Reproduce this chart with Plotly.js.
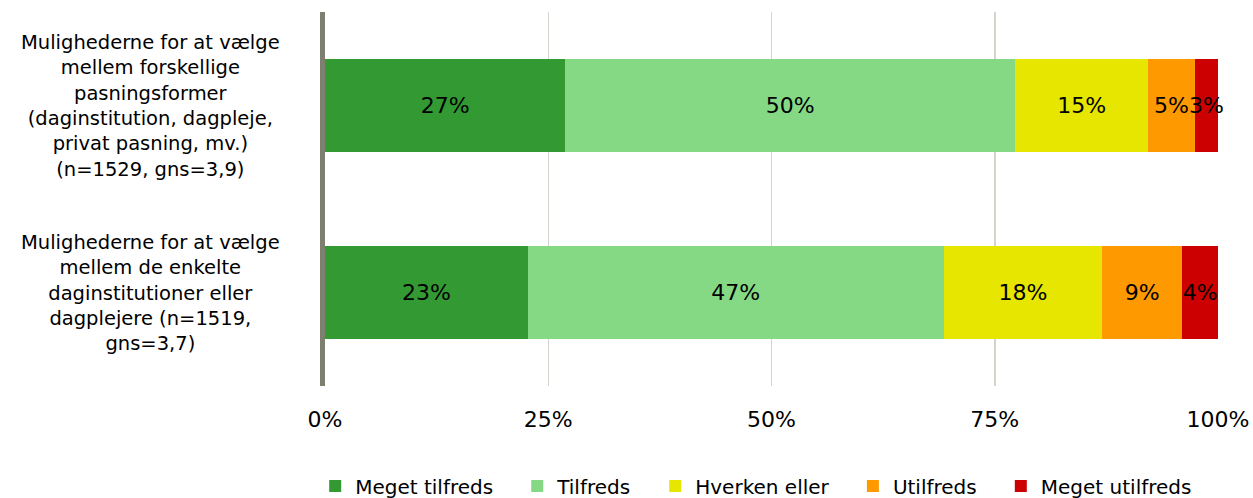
<!DOCTYPE html>
<html>
<head>
<meta charset="utf-8">
<script src="https://cdn.plot.ly/plotly-3.0.1.min.js"></script>
<style>html,body{margin:0;padding:0;background:#fff;}#chart{width:1253px;height:498px;}</style>
</head>
<body>
<div id="chart"></div>
<script>
// Data
var categories = [
  "Mulighederne for at vælge<br>mellem forskellige<br>pasningsformer<br>(daginstitution, dagpleje,<br>privat pasning, mv.)<br>(n=1529, gns=3,9)",
  "Mulighederne for at vælge<br>mellem de enkelte<br>daginstitutioner eller<br>dagplejere (n=1519,<br>gns=3,7)"
];
var seriesNames = ["Meget tilfreds", "Tilfreds", "Hverken eller", "Utilfreds", "Meget utilfreds"];
var megetTilfreds = [26.9, 22.7];
var tilfreds = [50.4, 46.6];
var hverkenEller = [14.9, 17.7];
var utilfreds = [5.2, 9.0];
var megetUtilfreds = [2.6, 4.0];
var seriesColors = ["#339933", "#85d985", "#e6e600", "#ff9900", "#cc0000"];
var tickVals = [0, 25, 50, 75, 100];
var tickLabels = ["0%", "25%", "50%", "75%", "100%"];

var seriesValues = [megetTilfreds, tilfreds, hverkenEller, utilfreds, megetUtilfreds];
var FONT = "DejaVu Sans, Verdana, sans-serif";
var catIdx = categories.map(function(_, i){ return i; });
var PAD = "\u00a0\u00a0\u00a0";

var traces = seriesValues.map(function(vals, k){
  return {
    type: "bar",
    orientation: "h",
    name: seriesNames[k] + (k < seriesNames.length - 1 ? PAD : ""),
    x: vals,
    y: catIdx,
    marker: {color: seriesColors[k], line: {width: 0}},
    texttemplate: "%{x:.0f}%",
    textposition: "inside",
    insidetextanchor: "middle",
    textangle: 0,
    constraintext: "none",
    cliponaxis: false,
    textfont: {family: FONT, size: 22, color: "#000"},
    hoverinfo: "skip"
  };
});

var annotations = categories.map(function(c, i){
  return {
    xref: "paper", yref: "y",
    x: -0.195, y: i,
    xanchor: "center", yanchor: "middle",
    text: c, align: "center", showarrow: false,
    font: {family: FONT, size: 19.5, color: "#000"}
  };
});

var layout = {
  width: 1253, height: 498,
  margin: {l: 325, r: 35, t: 12, b: 112, autoexpand: false},
  barmode: "stack",
  bargap: 0.5,
  paper_bgcolor: "#fff", plot_bgcolor: "#fff",
  showlegend: true,
  legend: {
    orientation: "h", xref: "container", x: 0.6035, xanchor: "center",
    yref: "container", y: 0.024, yanchor: "middle",
    font: {family: FONT, size: 20, color: "#000"},
    traceorder: "normal", itemclick: false, itemdoubleclick: false
  },
  xaxis: {
    range: [0, 100], tickvals: tickVals, ticktext: tickLabels,
    showgrid: true, gridcolor: "#d4d4cc", gridwidth: 1.5,
    zeroline: false, showline: false, ticks: "",
    ticklabelstandoff: 18,
    tickfont: {family: FONT, size: 22, color: "#000"},
    fixedrange: true
  },
  yaxis: {
    range: [1.5, -0.5], tickvals: catIdx, showticklabels: false,
    showgrid: false, zeroline: false,
    showline: true, linecolor: "#7f7f6f", linewidth: 5,
    ticks: "", fixedrange: true
  },
  annotations: annotations,
  font: {family: FONT}
};

Plotly.newPlot("chart", traces, layout, {displayModeBar: false, staticPlot: true});
</script>
</body>
</html>
